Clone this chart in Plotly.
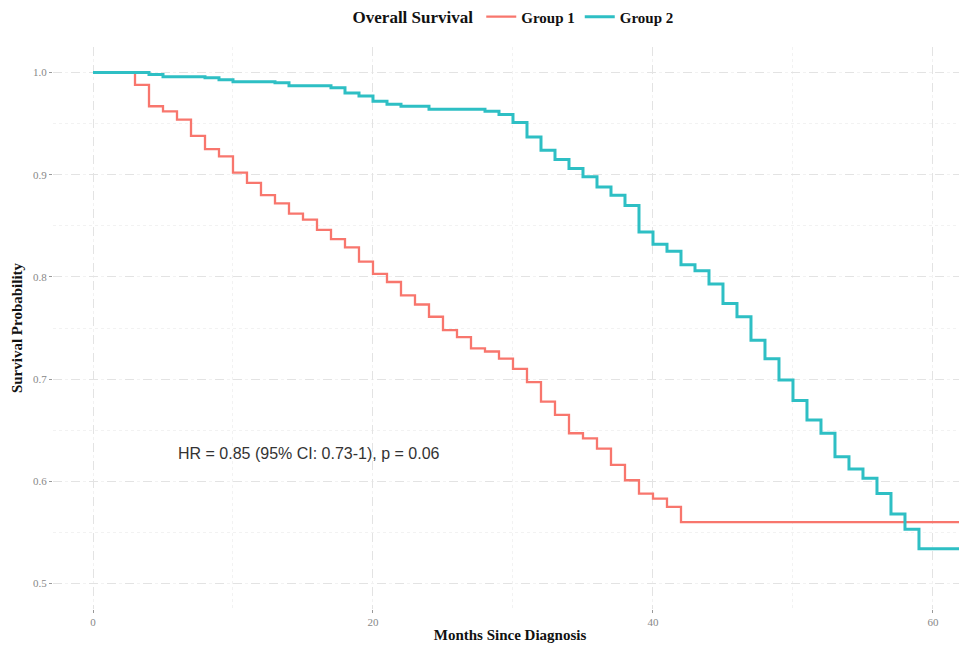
import plotly.graph_objects as go

# Group 1 step times (months) and survival after each step
g1_time = [0, 3, 4, 5, 6, 7, 8, 9, 10, 11, 12, 13, 14, 15, 16, 17, 18, 19, 20,
           21, 22, 23, 24, 25, 26, 27, 28, 29, 30, 31, 32, 33, 34, 35, 36, 37,
           38, 39, 40, 41, 42, 65]
g1_surv = [1.0, 0.988, 0.967, 0.962, 0.954, 0.938, 0.925, 0.918, 0.902, 0.892,
           0.880, 0.872, 0.862, 0.856, 0.846, 0.837, 0.829, 0.815, 0.803, 0.795,
           0.782, 0.773, 0.761, 0.748, 0.741, 0.730, 0.727, 0.720, 0.710, 0.697,
           0.678, 0.665, 0.647, 0.642, 0.632, 0.616, 0.601, 0.588, 0.583, 0.575,
           0.560, 0.560]

# Group 2
g2_time = [0, 4, 5, 8, 9, 10, 13, 14, 17, 18, 19, 20, 21, 22, 24, 28, 29, 30,
           31, 32, 33, 34, 35, 36, 37, 38, 39, 40, 41, 42, 43, 44, 45, 46, 47,
           48, 49, 50, 51, 52, 53, 54, 55, 56, 57, 58, 59, 65]
g2_surv = [1.0, 0.998, 0.996, 0.995, 0.993, 0.991, 0.990, 0.987, 0.985, 0.980,
           0.977, 0.972, 0.969, 0.967, 0.964, 0.962, 0.959, 0.951, 0.937, 0.924,
           0.915, 0.906, 0.898, 0.888, 0.880, 0.870, 0.844, 0.832, 0.825, 0.812,
           0.806, 0.793, 0.774, 0.761, 0.738, 0.720, 0.699, 0.679, 0.660, 0.647,
           0.624, 0.612, 0.603, 0.588, 0.568, 0.553, 0.534, 0.534]

x_ticks = [0, 20, 40, 60]
y_ticks = [0.5, 0.6, 0.7, 0.8, 0.9, 1.0]
y_tick_labels = ["0.5", "0.6", "0.7", "0.8", "0.9", "1.0"]

annotation_text = "HR = 0.85 (95% CI: 0.73-1), p = 0.06"

RED = "#F8766D"
TEAL = "#2EBFC4"
SERIF = "Liberation Serif"

fig = go.Figure()
fig.add_trace(go.Scatter(x=g1_time, y=g1_surv, mode="lines", line_shape="hv",
                         name="<b>Group 1</b>", line=dict(color=RED, width=2.3)))
fig.add_trace(go.Scatter(x=g2_time, y=g2_surv, mode="lines", line_shape="hv",
                         name="<b>Group 2</b>", line=dict(color=TEAL, width=3)))

fig.add_annotation(x=5.9, y=0.6275, xref="x", yref="y", text=annotation_text,
                   showarrow=False, xanchor="left", yanchor="middle",
                   font=dict(family="Liberation Sans", size=16, color="#333333"))

axis_common = dict(
    showgrid=True, gridcolor="#e3e3e3", griddash="dash", gridwidth=1,
    zeroline=False, showline=False, automargin=False,
    ticks="outside", ticklen=3, tickcolor="#999999", tickwidth=1,
    tickfont=dict(family=SERIF, size=11, color="#888888"),
)

fig.update_xaxes(range=[-2.857, 62.43], tickvals=x_ticks,
                 ticktext=[str(v) for v in x_ticks],
                 minor=dict(dtick=10, tick0=0, showgrid=True, gridcolor="#f2f2f2",
                            griddash="dot"),
                 title=dict(text="<b>Months Since Diagnosis</b>", standoff=2,
                            font=dict(family=SERIF, size=15, color="#111111")),
                 **axis_common)
fig.update_yaxes(range=[0.475, 1.025], tickvals=y_ticks, ticktext=y_tick_labels,
                 minor=dict(dtick=0.05, tick0=0.5, showgrid=True, gridcolor="#f2f2f2",
                            griddash="dot"),
                 title=dict(text="<b>Survival Probability</b>", standoff=6,
                            font=dict(family=SERIF, size=15, color="#111111")),
                 **axis_common)

# page body has an 8px margin, so the figure is offset by (8, 8)
fig.update_layout(
    width=959, height=638,
    margin=dict(l=45, r=0, t=39, b=37, autoexpand=False),
    plot_bgcolor="white", paper_bgcolor="white",
    showlegend=True,
    legend=dict(orientation="h", x=0.505, xanchor="center",
                y=0.986, yanchor="middle", yref="container",
                title=dict(text="<b>Overall Survival</b>", side="left",
                           font=dict(family=SERIF, size=17, color="#111111")),
                font=dict(family=SERIF, size=15, color="#111111"),
                itemwidth=30, bgcolor="rgba(0,0,0,0)"),
)

fig.write_html("out.html")
